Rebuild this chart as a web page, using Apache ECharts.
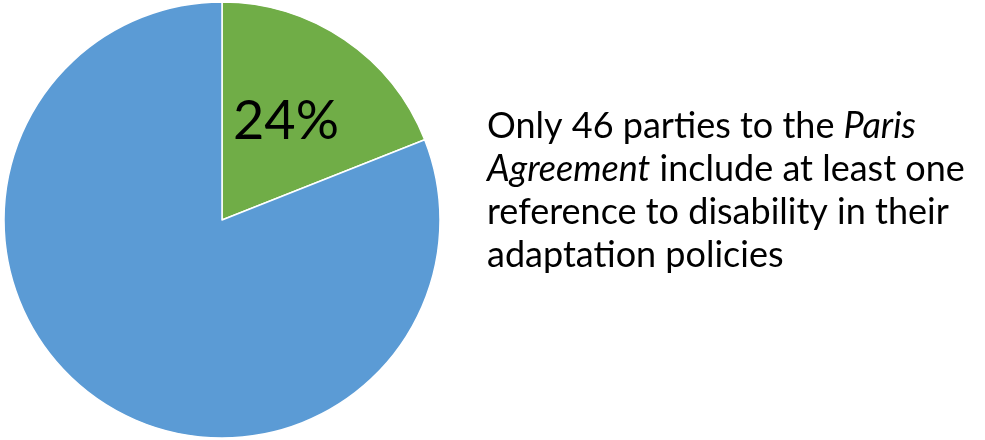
<!DOCTYPE html>
<html>
<head>
<meta charset="utf-8">
<script src="https://cdn.jsdelivr.net/npm/echarts@6/dist/echarts.min.js"></script>
<style>
html,body{margin:0;padding:0;background:#fff;}
#chart{width:985px;height:440px;}
</style>
</head>
<body>
<div id="chart"></div>
<script>
// Data (slice sizes as drawn)
const categories = ['With disability reference', 'Without disability reference'];
const values = [19, 81];
const colors = ['#70AD47', '#5B9BD5'];
const sliceLabel = '24%';
const noteLines = [
  [['n', 'Only 46 parties to the '], ['i', 'Paris']],
  [['i', 'Agreement'], ['n', ' include at least one']],
  [['n', 'reference to disability in their']],
  [['n', 'adaptation policies']]
];

const noteText = noteLines.map(l => l.map(([s, t]) => '{' + s + '|' + t + '}').join('')).join('\n');

const chart = echarts.init(document.getElementById('chart'));
chart.setOption({
  animation: false,
  series: [{
    type: 'pie',
    center: [222, 220],
    radius: [0, 218],
    startAngle: 90,
    clockwise: true,
    itemStyle: { borderColor: '#fff', borderWidth: 1.5 },
    label: { show: false },
    labelLine: { show: false },
    emphasis: { disabled: true },
    data: categories.map((c, i) => ({
      name: c,
      value: values[i],
      itemStyle: { color: colors[i] },
      label: i === 0 ? {
        show: true,
        position: 'inside',
        formatter: sliceLabel,
        fontFamily: 'Lato',
        fontSize: 54,
        color: '#000',
        offset: [1, -6]
      } : { show: false }
    }))
  }],
  graphic: [{
    type: 'text',
    left: 487,
    top: 108,
    style: {
      text: noteText,
      rich: {
        n: { fontFamily: 'Lato', fontSize: 36, color: '#111', lineHeight: 43 },
        i: { fontFamily: 'Lato', fontSize: 36, fontStyle: 'italic', color: '#111', lineHeight: 43 }
      }
    }
  }]
});
</script>
</body>
</html>
